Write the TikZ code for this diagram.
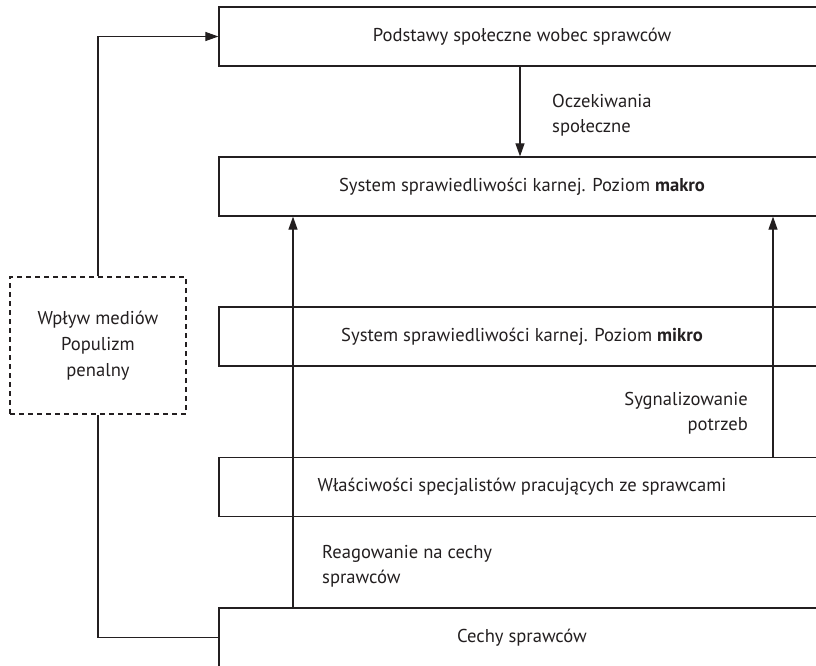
\documentclass[tikz,border=0pt]{standalone}
\usepackage{fontspec}
\setmainfont{PT Sans}
\usetikzlibrary{arrows.meta}
\definecolor{ink}{HTML}{231F20}
\tikzset{
  box/.style={draw=ink, text=ink, line width=1.2pt, minimum width=606pt, minimum height=59pt, inner sep=0pt, font=\fontsize{18.6}{25}\selectfont},
  medbox/.style={draw=ink, text=ink, line width=1.1pt, dash pattern=on 5pt off 4pt, minimum width=176pt, minimum height=137pt, inner sep=0pt, align=center, font=\fontsize{18.6}{26}\selectfont},
  lbl/.style={inner sep=0pt, text=ink, font=\fontsize{18.6}{25}\selectfont},
  conn/.style={draw=ink, line width=1.1pt},
  arr/.style={draw=ink, line width=1.1pt, -{Triangle[length=13pt,width=9pt]}}
}
\begin{document}
\begin{tikzpicture}[x=1pt,y=-1pt]
\useasboundingbox (0,0) rectangle (816,665);
\clip (0,0) rectangle (816,665);
\node[box] (b1) at (522,36.5) {Podstawy społeczne wobec sprawców};
\node[box] (b2) at (522,186.5) {System sprawiedliwości karnej. Poziom \textbf{makro}};
\node[box] (b3) at (522,336.5) {System sprawiedliwości karnej. Poziom \textbf{mikro}};
\node[box] (b4) at (522,487) {Właściwości specjalistów pracujących ze sprawcami};
\node[box] (b5) at (522,637.5) {Cechy sprawców};
\node[medbox] (med) at (98,345.5) {Wpływ mediów\\Populizm\\penalny};
\coordinate (cl) at (293,0);
\coordinate (cr) at (773,0);
\node[lbl, align=left, anchor=west] (l1) at (552,115) {Oczekiwania\\społeczne};
\node[lbl, align=right, anchor=east] (l2) at (748,413) {Sygnalizowanie\\potrzeb};
\node[lbl, align=left, anchor=west] (l3) at (322,566) {Reagowanie na cechy\\sprawców};
\draw[arr] ([xshift=-2pt]b1.south) -- ([xshift=-2pt]b2.north);
\draw[arr] (b5.north -| cl) -- (b2.south -| cl);
\draw[arr] (b4.north -| cr) -- (b2.south -| cr);
\draw[conn] (b5.west) -| (med.south);
\draw[arr] (med.north) |- (b1.west);
\end{tikzpicture}
\end{document}
